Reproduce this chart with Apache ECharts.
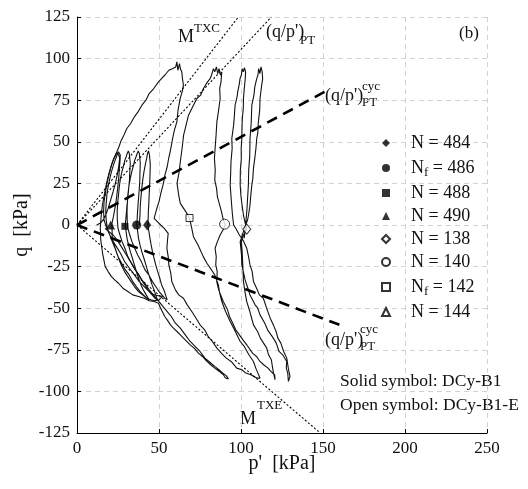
<!DOCTYPE html>
<html><head><meta charset="utf-8">
<script src="https://cdn.jsdelivr.net/npm/echarts@6/dist/echarts.min.js"></script>
<style>html,body{margin:0;padding:0;background:#fff}#c{width:528px;height:489px}</style>
</head><body><div id="c"></div>
<script>
// ---------- data ----------
const xRange = [0, 250], xStep = 50;
const yRange = [-125, 125], yStep = 25;

// DCy-B1-E stress path (open symbols), p' [kPa], q [kPa]
const openPath = [
 [102.0,-8],[102.8,0],[103.6,9],[104.5,24],[104.7,33],[105.3,41],[105.5,52],[106.2,61],[106.6,72],[107.9,78],[108.4,83],[109.6,88],[110.3,90],[110.8,94],[111.5,91],[112.2,95],[112.9,92],[113.6,93],[113.2,88],[112.6,84],[111.6,76],[111.4,69],[110.6,62],[110.2,55],[109.6,52],[109.1,46],[108.4,40],[107.6,34],[107.2,28],[106.6,24],[105.8,16],[105.5,12],[104.6,6],[104.0,3],[102.5,-1],[100.5,-7],
 [99.5,-10],[100.3,-18],[100.5,-24],[102.5,-33],[104.2,-38],[105.5,-42],[108.6,-48],[110.2,-50],[111.6,-54],[114.5,-59],[116.2,-63],[119.7,-68],[121.5,-71],[123.2,-76],[125.4,-78],[127.9,-82],[127.6,-86],[128.5,-89],[128.9,-94],
 [129.9,-91],[129.0,-87],[127.9,-80],[126.0,-76],[124.3,-71],[122.5,-68],[121.4,-64],[119.7,-60],[117.8,-56],[116.0,-51],[113.6,-44],[111.2,-42],[109.5,-38],[107.6,-34],[106.8,-28],[105.5,-24],[104.6,-19],[103.5,-14],[101.2,-9],[99.0,-6],[96.8,-2],[95.5,0],
 [94.8,6],[94.3,12],[93.4,24],[93.7,31],[93.9,38],[94.6,46],[94.4,52],[95.5,60],[95.9,65],[96.4,72],[97.6,77],[98.0,80],[99.0,85],[99.4,88],[100.2,90],[100.7,94],[101.4,92],[102.1,94.5],[102.8,92],
 [102.6,88],[102.0,82],[101.5,76],[101.4,70],[100.8,64],[100.6,58],[100.5,52],[100.1,46],[100.2,40],[99.6,33],[99.5,24],[99.9,18],[100.5,13],[101.5,6],[102.6,1],[103.5,-2.6],
 [101.6,-6],[100.2,-10],[100.7,-16],[101.0,-22],[101.5,-34],[102.4,-40],[103.5,-46],[105.4,-52],[106.2,-55],[107.6,-60],[110.1,-64],[111.8,-68],[115.7,-74],[116.8,-78],[118.5,-81],[119.3,-86],[119.8,-89],[120.8,-93],
 [120.5,-90],[118.2,-88],[116.5,-86],[113.8,-84],[111.6,-82],[109.5,-79],[107.0,-77],[103.5,-72],[101.2,-69],[99.0,-66],[96.8,-63],[95.4,-60],[93.0,-55],[91.8,-51],[89.2,-46],[87.6,-42],[86.4,-39],[85.2,-34],[85.5,-28],[84.6,-24],[84.9,-19],[84.2,-14],[85.6,-10],[87.3,-6],[89.0,-3],[90.3,0],
 [89.0,4],[88.1,8],[87.0,12],[85.6,17],[85.1,22],[84.0,27],[84.3,33],[83.8,40],[84.2,46],[84.8,54],[85.3,62],[86.2,68],[87.3,76],[87.0,82],[87.8,86],[88.3,92],[87.5,90],[86.6,94],[85.8,91],[85.0,95],[84.0,92],[83.2,94],
 [82.0,90],[81.2,88],[79.6,86],[77.1,82],[75.4,78],[73.1,76],[71.0,72],[68.0,66],[66.5,60],[65.0,54],[64.2,47],[63.0,38],[62.3,32],[61.0,25],[62.0,18],[63.0,13],[65.0,10],[67.0,7],[68.6,4],
 [70.0,-2],[71.0,-7],[73.8,-12],[77.0,-19],[79.2,-23],[82.0,-27],[84.0,-30],[86.2,-36],[87.0,-41],[88.3,-46],[90.6,-52],[93.4,-58],[96.0,-63],[99.5,-70],[102.0,-73],[104.8,-78],[107.6,-82],[109.0,-86],[110.3,-89],[111.6,-92],
 [109.6,-92],[106.0,-90],[103.0,-89],[100.5,-87],[97.4,-86],[94.0,-82],[91.0,-80],[88.0,-77],[85.3,-74],[82.5,-70],[80.0,-67],[77.8,-63],[75.0,-60],[72.6,-56],[70.0,-52],[67.2,-48],[64.9,-44],[62.0,-42],[60.0,-39],[57.8,-34],[57.2,-29],[56.0,-24],[55.6,-19],[54.8,-14],[55.2,-9],[55.6,-5],[53.2,-2],[51.0,0],[49.0,2],[47.0,4],
 [48.4,9],[50.0,14],[51.1,19],[52.7,25],[53.6,30],[55.0,35],[55.9,40],[56.8,44],[58.5,53],[59.4,57],[60.9,62],[61.6,69],[62.9,76],[64.1,80],[64.9,84],[64.3,88],[63.9,92],[63.0,94],[62.5,97],[61.5,93],[60.9,98],[60.2,95],[59.5,96],[58.5,94],
 [56.0,93],[53.5,90],[51.5,88],[49.7,86],[46.8,82],[44.0,79],[42.0,75],[39.6,72],[37.2,68],[35.0,65],[32.7,61],[30.4,58],[28.6,54],[27.0,51],[25.6,47],[24.3,44],[22.5,40],[21.0,36],[19.5,31],[18.0,25],[16.6,18],[15.5,12],[14.7,5],[14.2,-2],[14.5,-9],[15.6,-17],[17.2,-25],[19.0,-28],[21.0,-31],[23.0,-33],[25.3,-35],[28.0,-38],[31.0,-40],[34.0,-42],[37.5,-43],[41.0,-44],[44.0,-45.5],[47.0,-46],[49.7,-47],
 [51.0,-50],[52.0,-52],[53.5,-55],[55.0,-57],[57.0,-60],[58.8,-62],[61.0,-64],[63.0,-66],[66.0,-69],[69.0,-72],[71.5,-74],[74.0,-77],[76.5,-79],[79.2,-82],[81.5,-84],[84.0,-86],[86.8,-88],[89.3,-90],[90.5,-92],[92.3,-92.5],
 [91.0,-90.5],[89.0,-89],[86.5,-87],[84.0,-85],[81.0,-82.5],[78.0,-80],[75.0,-76],[72.0,-73],[69.0,-70],[66.0,-66],[63.0,-62],[60.0,-59],[57.5,-55],[55.0,-52],[52.5,-49],[50.0,-46],[46.5,-42],[44.0,-39],[42.0,-36],[39.5,-33],[37.0,-29],[34.5,-25],[32.0,-21],[29.5,-17],[27.0,-13],[24.5,-9],[22.0,-6],[19.5,-4],[17.0,-2]
];

// DCy-B1 stress path (solid symbols)
const solidPath = [
 [38.0,0],[38.4,6],[38.6,12],[39.5,22],[40.2,28],[41.0,33],[41.8,37],[42.5,40],[43.0,43],[43.6,44.5],[44.2,42],[44.6,41],[44.7,36],[44.5,30],[44.3,24],[44.0,18],[43.8,13],[43.5,8],[43.4,4],[43.2,0],
 [44.5,-8],[45.2,-12],[46.0,-16],[47.0,-20],[48.0,-24],[49.2,-28],[50.5,-32],[51.6,-36],[53.0,-39],[54.0,-42],[55.0,-45],[53.5,-44],[51.8,-42],[50.0,-40],[48.0,-37],[46.0,-34],[43.8,-30],[41.5,-27],[39.2,-22],[37.0,-18],[35.2,-14],[33.5,-10],[32.2,-6],[31.0,-2],
 [30.6,3],[30.5,8],[30.7,13],[31.0,18],[31.6,23],[32.5,28],[33.4,32],[34.5,36],[35.2,39],[36.0,41],[36.7,43],[37.4,44.5],[38.0,43],[38.5,42],[38.6,37],[38.4,32],[38.3,27],[38.0,22],[37.6,17],[37.2,12],[36.8,6],[36.5,0],
 [37.5,-8],[38.4,-12],[39.5,-16],[40.8,-20],[42.0,-24],[43.2,-28],[44.5,-32],[45.8,-36],[47.0,-39],[48.0,-42],[49.0,-45],[47.5,-44],[45.8,-42],[44.0,-40],[42.0,-37],[40.0,-34],[37.8,-30],[35.5,-27],[33.2,-23],[31.0,-19],[29.2,-14],[27.5,-10],[26.2,-6],[25.0,-2],
 [24.6,3],[24.5,8],[24.8,13],[25.3,18],[25.8,23],[26.5,28],[27.4,32],[28.5,36],[29.2,39],[30.0,41],[30.6,43],[31.3,44.5],[31.9,43],[32.4,42],[32.5,37],[32.2,32],[32.0,27],[31.5,22],[31.1,17],[30.5,12],[30.0,6],[29.4,0],
 [30.5,-8],[31.4,-12],[32.5,-16],[33.8,-20],[35.0,-24],[36.2,-28],[37.5,-32],[39.0,-36],[40.5,-39],[42.2,-42],[44.0,-45],[42.5,-44],[40.5,-42],[38.5,-40],[36.2,-37],[34.0,-34],[31.8,-30],[29.5,-27],[27.2,-23],[25.0,-19],[23.2,-14],[21.5,-10],[20.0,-6],[18.5,-2],
 [17.8,3],[17.5,8],[17.8,13],[18.3,19],[19.0,23],[19.8,27],[20.5,30],[21.3,33],[22.2,36],[23.3,39],[24.2,41.5],[25.3,44],[25.9,43],[26.4,42],[26.2,38],[25.8,34],[25.6,30],[25.3,27],[24.8,22],[24.3,18],[23.8,14],[23.3,11],[22.2,5],[21.3,1],[20.3,0],
 [21.5,-8],[22.6,-12],[24.0,-16],[25.4,-20],[27.0,-24],[29.0,-28],[31.0,-31],[33.0,-34],[35.0,-37],[37.5,-40],[40.0,-42],[42.5,-44],[45.0,-45],[47.5,-45.5],[50.0,-45],[52.0,-43],
 [49.5,-42.5],[47.0,-42],[44.0,-40],[41.0,-37],[38.0,-34],[35.0,-30],[32.0,-26],[29.0,-22],[26.5,-17],[24.0,-13],[21.5,-9],[19.5,-5],[17.8,-1],[16.5,3],[16.2,8],[16.5,14],[17.4,20],[18.5,26],[19.7,31],[21.0,36],[22.3,39.5],[23.5,42],[24.3,43.5],[25.0,44],[25.5,42],[26.0,40],[25.4,35],[24.5,30],[23.4,25],[22.0,20],[20.5,15],[19.0,10],[17.5,6],[16.0,3],[14.0,1],[12.0,0]
];

// Reference lines
const mtxcLine = [[0,0],[98.4,125]];
const ptLine = [[0,0],[118.5,125]];
const cycUpLine = [[0,0],[151,80]];
const cycDownLine = [[0,0],[160,-60]];
const mtxeLine = [[0,0],[148.3,-125]];

// Markers
const solidN484 = [[42.8,0]];
const solidNf486 = [[36.4,0]];
const solidN488 = [[29.2,-0.8]];
const solidN490 = [[20.5,0]];
const openN138 = [[103.5,-2.5]];
const openN140 = [[90.0,0.5]];
const openNf142 = [[68.6,4.2]];
const openN144 = [];

// ---------- chart ----------
const FONT = 'Liberation Serif';
const chart = echarts.init(document.getElementById('c'), null, {renderer: 'canvas'});

function pathSeries(data) {
  return {type: 'line', data, showSymbol: false, symbol: 'none', silent: true, z: 3,
    lineStyle: {color: '#111', width: 1.1}, animation: false};
}
function refSeries(data, width, dash) {
  return {type: 'line', data, showSymbol: false, symbol: 'none', silent: true, z: 4,
    lineStyle: {color: '#000', width, type: dash}, animation: false};
}
function markSeries(name, data, symbol, size, filled) {
  return {type: 'scatter', name, data, symbol, symbolSize: size, z: 6, animation: false,
    itemStyle: filled ? {color: '#000'} : {color: '#fff', borderColor: '#000', borderWidth: 1}};
}
function T(text, x, y, size) {
  return {type: 'text', x, y, silent: true,
    style: {text, fontFamily: FONT, fontSize: size, fill: '#111', align: 'left', verticalAlign: 'middle'}};
}

const option = {
  animation: false,
  backgroundColor: '#fff',
  grid: {left: 77, right: 41, top: 17, bottom: 56},
  xAxis: {
    type: 'value', min: xRange[0], max: xRange[1], interval: xStep,
    name: "p'  [kPa]", nameLocation: 'middle', nameGap: 21, nameMoveOverlap: false,
    nameTextStyle: {fontFamily: FONT, fontSize: 20, color: '#111'},
    axisLine: {onZero: false, lineStyle: {color: '#000', width: 1}},
    axisTick: {inside: true, length: 4, lineStyle: {color: '#000'}},
    axisLabel: {fontFamily: FONT, fontSize: 17, color: '#111', margin: 7},
    splitLine: {show: true, lineStyle: {color: '#d2d2d2', type: [5, 4], width: 1}}
  },
  yAxis: {
    type: 'value', min: yRange[0], max: yRange[1], interval: yStep,
    name: 'q  [kPa]', nameLocation: 'middle', nameGap: 45, nameRotate: 90, nameMoveOverlap: false,
    nameTextStyle: {fontFamily: FONT, fontSize: 20, color: '#111'},
    axisLine: {onZero: false, lineStyle: {color: '#000', width: 1}},
    axisTick: {inside: true, length: 4, lineStyle: {color: '#000'}},
    axisLabel: {fontFamily: FONT, fontSize: 17, color: '#111', margin: 7},
    splitLine: {show: true, lineStyle: {color: '#d2d2d2', type: [5, 4], width: 1}}
  },
  legend: {
    orient: 'vertical', left: 376, top: 129, itemWidth: 8, itemHeight: 8, itemGap: 5,
    selectedMode: false,
    data: ['N = 484', 'Nf = 486', 'N = 488', 'N = 490', 'N = 138', 'N = 140', 'Nf = 142', 'N = 144'],
    formatter: n => n.startsWith('Nf') ? 'N{s|f}' + n.slice(2) : n,
    textStyle: {fontFamily: FONT, fontSize: 18, color: '#111', padding: [0, 0, 0, 16], lineHeight: 17,
      rich: {s: {fontFamily: FONT, fontSize: 13, color: '#111', padding: [9, 0, 0, 0], lineHeight: 13}}}
  },
  graphic: [
    T('M', 178, 37, 18), T('TXC', 194, 29, 13),
    T("(q/p')", 266, 32, 18), T('PT', 300, 41, 13),
    T('(b)', 459, 34, 17),
    T("(q/p')", 325, 96, 18), T('cyc', 362, 87, 13), T('PT', 362, 103, 13),
    T("(q/p')", 325, 340, 18), T('cyc', 360, 330, 13), T('PT', 360, 347, 13),
    T('M', 240, 419, 18), T('TXE', 257, 406, 13),
    T('Solid symbol: DCy-B1', 340, 381, 17.5),
    T('Open symbol: DCy-B1-E', 340, 405, 17.5)
  ],
  series: [
    pathSeries(openPath),
    pathSeries(solidPath),
    refSeries(mtxcLine, 1.1, [2, 2]),
    refSeries(ptLine, 1.1, [2, 2]),
    refSeries(mtxeLine, 1.1, [2, 2]),
    refSeries(cycUpLine, 2.6, [11, 7]),
    refSeries(cycDownLine, 2.6, [11, 7]),
    markSeries('N = 484', solidN484, 'diamond', [8, 11], true),
    markSeries('Nf = 486', solidNf486, 'circle', 9, true),
    markSeries('N = 488', solidN488, 'rect', 7, true),
    markSeries('N = 490', solidN490, 'triangle', 9, true),
    markSeries('N = 138', openN138, 'diamond', [8, 10], false),
    markSeries('N = 140', openN140, 'circle', 10, false),
    markSeries('Nf = 142', openNf142, 'rect', 7, false),
    markSeries('N = 144', openN144, 'triangle', 9, false)
  ]
};
chart.setOption(option);
</script>
</body></html>
